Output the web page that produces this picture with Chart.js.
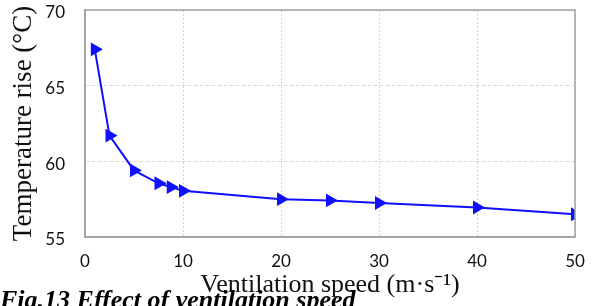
<!DOCTYPE html>
<html lang="en">
<head>
    <meta charset="UTF-8">
    <title>Temperature rise vs ventilation speed</title>
    <script src="https://cdn.jsdelivr.net/npm/chart.js"></script>
    <style>
        html, body { margin: 0; padding: 0; background: #fff; overflow: hidden; }
        #wrap { position: relative; width: 596px; height: 306px; }
        #caption {
            position: absolute; left: 0; top: 285px;
            font: italic bold 26px "Liberation Serif", serif; white-space: nowrap;
        }
    </style>
</head>
<body>
    <div id="wrap">
        <canvas id="tempChart" width="596" height="306"></canvas>
        <div id="caption">Fig.13 Effect of ventilation speed</div>
    </div>

    <script>
        // data
        const speeds = [1, 2.5, 5, 7.5, 8.75, 10, 20, 25, 30, 40, 50];
        const tempRise = [67.4, 61.7, 59.4, 58.55, 58.3, 58.05, 57.5, 57.42, 57.25, 56.95, 56.5];
        const xTicks = [0, 10, 20, 30, 40, 50];
        const yTicks = [55, 60, 65, 70];

        const points = speeds.map((s, i) => ({ x: s, y: tempRise[i] }));

        // box around the plot area (top and right edges)
        const boxPlugin = {
            id: 'box',
            afterDraw(chart) {
                const a = chart.chartArea;
                const ctx = chart.ctx;
                ctx.save();
                ctx.strokeStyle = '#a0a0a0';
                ctx.lineWidth = 1.5;
                ctx.strokeRect(a.left, a.top, a.right - a.left, a.bottom - a.top);
                ctx.restore();
            }
        };

        const ctx = document.getElementById('tempChart').getContext('2d');
        new Chart(ctx, {
            type: 'line',
            data: {
                datasets: [{
                    data: points,
                    borderColor: '#1010ff',
                    backgroundColor: '#1010ff',
                    borderWidth: 2,
                    pointStyle: 'triangle',
                    rotation: 90,
                    pointRadius: 6,
                    tension: 0,
                    fill: false
                }]
            },
            plugins: [boxPlugin],
            options: {
                responsive: false,
                animation: false,
                layout: { padding: { top: 10, right: 21, left: 0, bottom: 0 } },
                plugins: { legend: { display: false }, tooltip: { enabled: false } },
                scales: {
                    x: {
                        type: 'linear',
                        min: 0, max: 50,
                        afterBuildTicks: s => { s.ticks = xTicks.map(v => ({ value: v })); },
                        afterFit: s => { s.height = 69; s.paddingLeft = 0; s.paddingRight = 0; },
                        grid: { color: '#d4d4d4', drawTicks: false },
                        border: { color: '#a0a0a0', width: 1.5, dash: [2, 2] },
                        ticks: { color: '#111', padding: 14, font: { family: 'Lato', size: 17 } },
                        title: {
                            display: true,
                            text: 'Ventilation speed (m·s⁻¹)',
                            color: '#111',
                            padding: { top: 0, bottom: 5 },
                            font: { family: 'Liberation Serif', size: 26 }
                        }
                    },
                    y: {
                        min: 55, max: 70,
                        afterBuildTicks: s => { s.ticks = yTicks.map(v => ({ value: v })); },
                        afterFit: s => { s.width = 85; s.paddingTop = 0; s.paddingBottom = 0; },
                        grid: { color: '#dadada', drawTicks: false },
                        border: { color: '#a0a0a0', width: 1.5, dash: [4, 2] },
                        ticks: { color: '#111', padding: 20, labelOffset: 3, font: { family: 'Lato', size: 17 } },
                        title: {
                            display: true,
                            text: 'Temperature rise (°C)',
                            color: '#111',
                            padding: { top: 8, bottom: 0 },
                            font: { family: 'Liberation Serif', size: 27 }
                        }
                    }
                }
            }
        });
    </script>
</body>
</html>
